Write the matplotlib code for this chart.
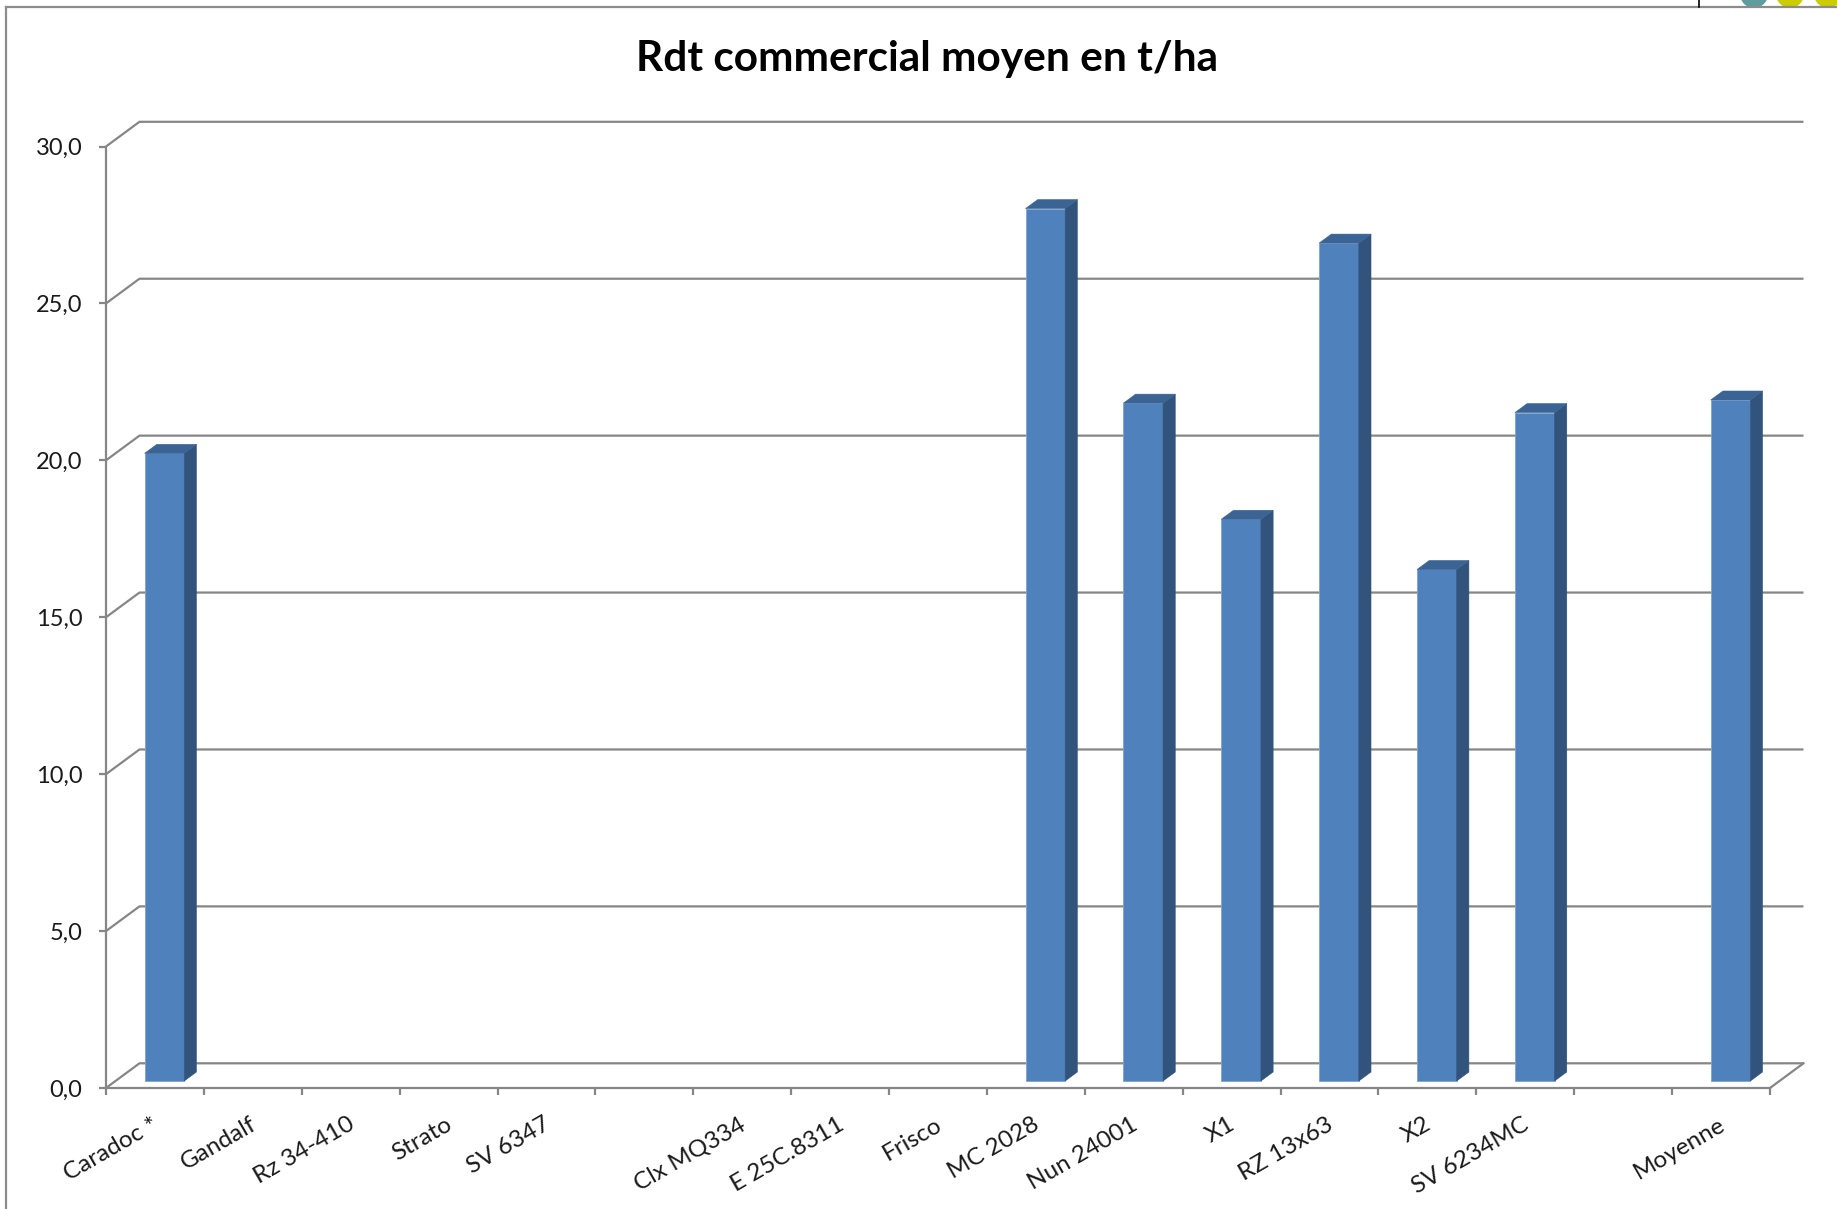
import matplotlib
matplotlib.use('Agg')
import matplotlib.pyplot as plt
from matplotlib.patches import Polygon, Ellipse
from matplotlib.lines import Line2D
import matplotlib.transforms as mtransforms
import numpy as np

plt.rcParams['font.family'] = ['Lato', 'DejaVu Sans']

# ---------------- data ----------------
categories = ['Caradoc *', 'Gandalf', 'Rz 34-410', 'Strato', 'SV 6347', '',
              'Clx MQ334', 'E 25C.8311', 'Frisco', 'MC 2028', 'Nun 24001', 'X1',
              'RZ 13x63', 'X2', 'SV 6234MC', '', 'Moyenne']
values = [20.0, np.nan, np.nan, np.nan, np.nan, np.nan,
          np.nan, np.nan, np.nan, 27.8, 21.6, 17.9,
          26.7, 16.3, 21.3, np.nan, 21.7]
y_ticks = [0, 5, 10, 15, 20, 25, 30]
y_tick_labels = ['0,0', '5,0', '10,0', '15,0', '20,0', '25,0', '30,0']
title = 'Rdt commercial moyen en t/ha'

# ---------------- style ----------------
W, H = 1837, 1209
GRAY = '#868686'
FRONT = '#4F81BD'
SIDE = '#32537B'
TOP = '#3B6494'
DX, DY = 0.342, 0.787      # depth of the back wall (data units)
D0, DD = 0.283, 0.364      # bar front plane depth, bar depth (fractions)
BW = 0.405                 # bar width

fig = plt.figure(figsize=(W / 100, H / 100), dpi=100)
ax = fig.add_axes([106 / W, 121 / H, 1664 / W, (1088 - 146.5) / H])
n = len(categories)
ax.set_xlim(0, n)
ax.set_ylim(0, 30)

# back wall gridlines + left wall diagonals
for v in y_ticks:
    ax.plot([0, DX, n + DX], [v, v + DY, v + DY], color=GRAY, lw=1.6,
            clip_on=False, zorder=1, solid_capstyle='butt')
# floor right edge
ax.plot([n, n + DX], [0, DY], color=GRAY, lw=1.6, clip_on=False, zorder=1)

# bars (front face via ax.bar, side/top faces from same geometry)
xs = np.arange(n) + 0.5 + D0 * DX
base = D0 * DY
vals = np.array(values, dtype=float)
mask = ~np.isnan(vals)
bars = ax.bar(xs[mask], vals[mask], width=BW, bottom=base, color=FRONT,
              edgecolor='#7FA3D3', linewidth=0.6, zorder=3)
for x, v in zip(xs[mask], vals[mask]):
    xl, xr = x - BW / 2, x + BW / 2
    ddx, ddy = DD * DX, DD * DY
    side = Polygon([(xr, base), (xr + ddx, base + ddy),
                    (xr + ddx, base + v + ddy), (xr, base + v)],
                   closed=True, facecolor=SIDE, edgecolor=SIDE, lw=0.4, zorder=3)
    top = Polygon([(xl, base + v), (xr, base + v),
                   (xr + ddx, base + v + ddy), (xl + ddx, base + v + ddy)],
                  closed=True, facecolor=TOP, edgecolor=TOP, lw=0.4, zorder=3)
    ax.add_patch(side)
    ax.add_patch(top)

# axes spines
for s in ['top', 'right']:
    ax.spines[s].set_visible(False)
for s in ['left', 'bottom']:
    ax.spines[s].set_color(GRAY)
    ax.spines[s].set_linewidth(1.6)
    ax.spines[s].set_zorder(4)

ax.set_yticks(y_ticks)
ax.set_yticklabels(y_tick_labels)
ax.tick_params(axis='y', direction='out', length=5, width=1.6, color=GRAY,
               labelsize=17, pad=12, labelcolor='#1a1a1a')

ax.set_xticks(np.arange(n) + 0.5)
ax.set_xticklabels(categories, rotation=30, ha='right', rotation_mode='anchor',
                   va='center')
ax.set_xticks(np.arange(n + 1), minor=True)
ax.tick_params(axis='x', which='major', length=0, labelsize=17.5, pad=25,
               labelcolor='#1a1a1a')
ax.tick_params(axis='x', which='minor', direction='out', length=5, width=1.6,
               color=GRAY)
shift = mtransforms.ScaledTranslation(2 / 100, 0, fig.dpi_scale_trans)
for lbl in ax.get_xticklabels():
    lbl.set_transform(lbl.get_transform() + shift)
ax.patch.set_alpha(0)

# title
fig.text(927 / W, 1 - 71 / H, title, ha='center', va='baseline',
         fontsize=30.5, fontweight='bold', color='black')

# chart frame
fig.add_artist(Line2D([6 / W, 1], [1 - 7 / H, 1 - 7 / H], color='#8c8c8c',
                      lw=1.6, transform=fig.transFigure))
fig.add_artist(Line2D([6 / W, 6 / W], [0, 1 - 7 / H], color='#8c8c8c',
                      lw=1.6, transform=fig.transFigure))
# decorations cut off at top right
fig.add_artist(Line2D([1699 / W, 1699 / W], [1 - 7 / H, 1], color='black',
                      lw=1.2, transform=fig.transFigure))
for cx, col in [(1754, '#5F9C9E'), (1790, '#CCCC00'), (1828, '#CCCC00')]:
    fig.add_artist(Ellipse((cx / W, 1 + 6 / H), 28 / W, 28 / H,
                           transform=fig.transFigure, facecolor=col,
                           edgecolor='none'))

fig.savefig('out.png', dpi=100)
